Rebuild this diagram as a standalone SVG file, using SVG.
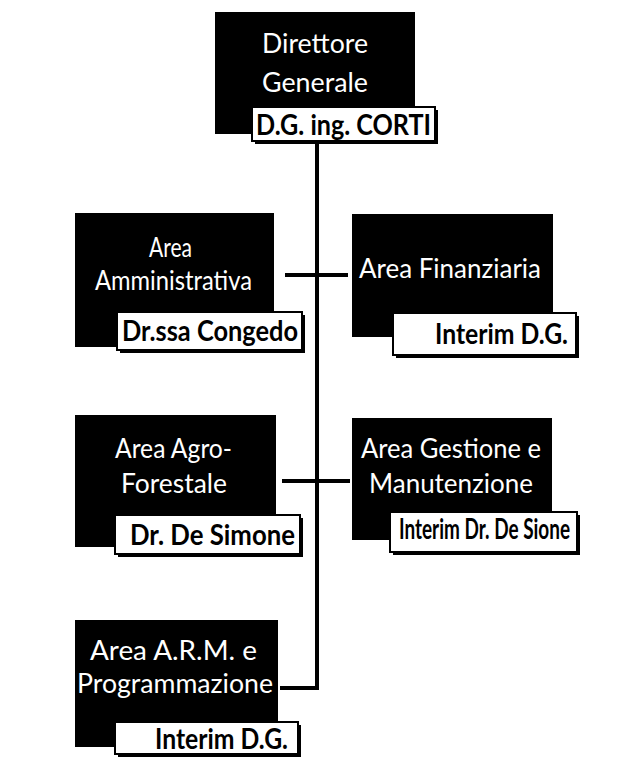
<svg xmlns="http://www.w3.org/2000/svg" width="621" height="773" viewBox="0 0 621 773">
<style>
.box{fill:#000}
.shadow{fill:#000}
.lab{fill:#fff;stroke:#000;stroke-width:2}
.t{font-family:Lato,"Open Sans",sans-serif;fill:#fff;font-size:26px}
.n{font-family:Lato,"Open Sans",sans-serif;fill:#000;font-weight:bold;font-size:28px}
.c{stroke:#000;stroke-width:4;fill:none}
</style>
<rect width="621" height="773" fill="#fff"/>
<g id="connectors">
<path class="c" d="M317,140 V688 H280"/>
<path class="c" d="M285,275 H348"/>
<path class="c" d="M282,481 H350"/>
</g>
<g id="dg">
<rect class="box" x="215" y="12" width="200" height="122"/>
<text class="t" x="262" y="53" font-size="30" textLength="106" lengthAdjust="spacingAndGlyphs">Direttore</text>
<text class="t" x="262" y="92" font-size="30" textLength="106" lengthAdjust="spacingAndGlyphs">Generale</text>
<rect class="shadow" x="255" y="110" width="183" height="34"/>
<rect class="lab" x="252" y="107" width="183" height="34"/>
<text class="n" x="256" y="135" font-size="26" textLength="175" lengthAdjust="spacingAndGlyphs">D.G. ing. CORTI</text>
</g>
<g id="amm">
<rect class="box" x="75" y="213" width="199" height="134"/>
<text class="t" x="149" y="257" font-size="27" textLength="43" lengthAdjust="spacingAndGlyphs">Area</text>
<text class="t" x="95" y="290" textLength="157" lengthAdjust="spacingAndGlyphs">Amministrativa</text>
<rect class="shadow" x="120" y="315" width="185" height="38"/>
<rect class="lab" x="117" y="312" width="185" height="38"/>
<text class="n" x="122" y="341" textLength="176" lengthAdjust="spacingAndGlyphs">Dr.ssa Congedo</text>
</g>
<g id="fin">
<rect class="box" x="352" y="214" width="201" height="123"/>
<text class="t" x="359" y="278" textLength="182" lengthAdjust="spacingAndGlyphs">Area Finanziaria</text>
<rect class="shadow" x="396" y="316" width="183" height="42"/>
<rect class="lab" x="393" y="313" width="183" height="42"/>
<text class="n" x="435" y="344" textLength="133" lengthAdjust="spacingAndGlyphs">Interim D.G.</text>
</g>
<g id="agro">
<rect class="box" x="75" y="415" width="201" height="132"/>
<text class="t" x="115" y="458" textLength="117" lengthAdjust="spacingAndGlyphs">Area Agro-</text>
<text class="t" x="121" y="493" textLength="106" lengthAdjust="spacingAndGlyphs">Forestale</text>
<rect class="shadow" x="118" y="518" width="185" height="39"/>
<rect class="lab" x="115" y="515" width="185" height="39"/>
<text class="n" x="130" y="545" font-size="30" textLength="165" lengthAdjust="spacingAndGlyphs">Dr. De Simone</text>
</g>
<g id="gest">
<rect class="box" x="352" y="418" width="200" height="122"/>
<text class="t" x="361" y="458" textLength="180" lengthAdjust="spacingAndGlyphs">Area Gestione e</text>
<text class="t" x="369" y="493" textLength="164" lengthAdjust="spacingAndGlyphs">Manutenzione</text>
<rect class="shadow" x="393" y="515" width="187" height="40"/>
<rect class="lab" x="390" y="512" width="187" height="40"/>
<text class="n" x="399" y="539" font-size="19" textLength="171" lengthAdjust="spacingAndGlyphs">Interim Dr. De Sione</text>
</g>
<g id="arm">
<rect class="box" x="75" y="620" width="203" height="127"/>
<text class="t" x="90" y="660" textLength="167" lengthAdjust="spacingAndGlyphs">Area A.R.M. e</text>
<text class="t" x="77" y="693" textLength="196" lengthAdjust="spacingAndGlyphs">Programmazione</text>
<rect class="shadow" x="118" y="725" width="183" height="32"/>
<rect class="lab" x="115" y="722" width="183" height="32"/>
<text class="n" x="155" y="749" textLength="133" lengthAdjust="spacingAndGlyphs">Interim D.G.</text>
</g>
</svg>
